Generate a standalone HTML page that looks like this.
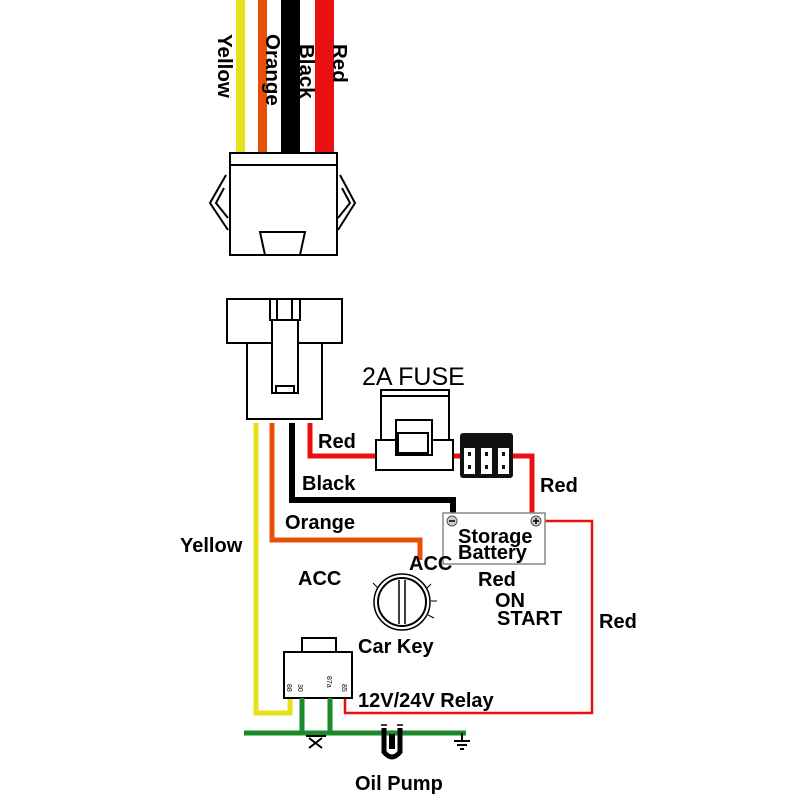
<!DOCTYPE html>
<html><head><meta charset="utf-8"><style>
html,body{margin:0;padding:0;background:#fff;}
svg text{font-family:"Liberation Sans",Arial,sans-serif;fill:#000;}
</style></head><body>
<svg width="800" height="800" viewBox="0 0 800 800" xmlns="http://www.w3.org/2000/svg">
<rect x="236" y="0" width="9" height="155" fill="#e6e21a"/>
<rect x="258" y="0" width="9" height="155" fill="#e8500a"/>
<rect x="281" y="0" width="19" height="155" fill="#000"/>
<rect x="315" y="0" width="19" height="155" fill="#e81010"/>
<g font-weight="bold" font-size="20.5">
<text transform="translate(218,34) rotate(90)">Yellow</text>
<text transform="translate(266,34) rotate(90)">Orange</text>
<text transform="translate(300,44) rotate(90)">Black</text>
<text transform="translate(333,44) rotate(90)">Red</text>
</g>
<g fill="#fff" stroke="#000" stroke-width="2">
<rect x="230" y="153" width="107" height="102"/>
<line x1="230" y1="165" x2="337" y2="165"/>
<polyline points="226,175 210,203 228,230" fill="none"/>
<polyline points="224,188 216,203 228,218" fill="none"/>
<polyline points="340,175 355,203 338,230" fill="none"/>
<polyline points="342,188 350,203 338,218" fill="none"/>
<polygon points="260,232 305,232 300,255 265,255"/>
</g>
<g fill="#fff" stroke="#000" stroke-width="2">
<rect x="227" y="299" width="115" height="44"/>
<rect x="247" y="343" width="75" height="76"/>
<rect x="272" y="299" width="26" height="94"/>
<rect x="270" y="299" width="30" height="21"/>
<line x1="277" y1="299" x2="277" y2="320"/>
<line x1="292" y1="299" x2="292" y2="320"/>
<rect x="276" y="386" width="18" height="7"/>
</g>
<polyline points="256,423 256,713 290,713 290,697" fill="none" stroke="#e6e21a" stroke-width="5"/>
<polyline points="272,423 272,540 420,540 420,560" fill="none" stroke="#e8500a" stroke-width="5"/>
<polyline points="292,423 292,500 453,500 453,515" fill="none" stroke="#000" stroke-width="6"/>
<polyline points="310,423 310,456 377,456" fill="none" stroke="#e81010" stroke-width="5"/>
<line x1="453" y1="456" x2="462" y2="456" stroke="#e81010" stroke-width="5"/>
<polyline points="513,456 532,456 532,515" fill="none" stroke="#e81010" stroke-width="5"/>
<polyline points="545,521 592,521 592,713 345,713 345,697" fill="none" stroke="#e81010" stroke-width="2.5"/>
<g fill="#fff" stroke="#000" stroke-width="2">
<rect x="381" y="390" width="68" height="50"/>
<line x1="381" y1="396" x2="449" y2="396"/>
<rect x="376" y="440" width="77" height="30"/>
<rect x="396" y="420" width="36" height="35"/>
<rect x="398" y="433" width="30" height="20"/>
</g>
<rect x="460" y="433" width="53" height="45" rx="3" fill="#111"/>
<g fill="#fff">
<rect x="464" y="448" width="11" height="26"/><rect x="481" y="448" width="11" height="26"/><rect x="498" y="448" width="11" height="26"/>
</g>
<g fill="#111">
<rect x="468" y="452" width="3" height="4"/><rect x="468" y="465" width="3" height="4"/>
<rect x="485" y="452" width="3" height="4"/><rect x="485" y="465" width="3" height="4"/>
<rect x="502" y="452" width="3" height="4"/><rect x="502" y="465" width="3" height="4"/>
</g>
<rect x="443" y="513" width="102" height="51" fill="#fff" stroke="#888" stroke-width="1.5"/>
<circle cx="452" cy="521" r="5" fill="#ccc" stroke="#555"/><line x1="449" y1="521" x2="455" y2="521" stroke="#000" stroke-width="1.5"/>
<circle cx="536" cy="521" r="5" fill="#ccc" stroke="#555"/><line x1="533" y1="521" x2="539" y2="521" stroke="#000" stroke-width="1.5"/><line x1="536" y1="518" x2="536" y2="524" stroke="#000" stroke-width="1.5"/>
<circle cx="402" cy="602" r="28" fill="none" stroke="#000" stroke-width="1.5"/>
<circle cx="402" cy="602" r="24" fill="none" stroke="#000" stroke-width="2"/>
<line x1="399" y1="580" x2="399" y2="624" stroke="#000" stroke-width="1.5"/>
<line x1="405" y1="580" x2="405" y2="624" stroke="#000" stroke-width="1.5"/>
<g stroke="#000" stroke-width="1"><line x1="373" y1="583" x2="378" y2="588"/><line x1="426" y1="589" x2="431" y2="584"/><line x1="431" y1="601" x2="437" y2="601"/><line x1="428" y1="615" x2="434" y2="618"/></g>
<g fill="#fff" stroke="#000" stroke-width="2">
<rect x="302" y="638" width="34" height="14"/>
<rect x="284" y="652" width="68" height="46"/>
</g>
<g font-size="7" fill="#333"><text transform="translate(287,684) rotate(90)">88</text><text transform="translate(298,684) rotate(90)">30</text><text transform="translate(327,676) rotate(90)">87a</text><text transform="translate(342,684) rotate(90)">85</text></g>
<g stroke="#1a8a2a" stroke-width="5" fill="none">
<line x1="302" y1="698" x2="302" y2="733"/>
<line x1="330" y1="698" x2="330" y2="733"/>
<line x1="244" y1="733" x2="466" y2="733"/>
</g>
<g stroke="#000" stroke-width="2"><line x1="309" y1="738" x2="322" y2="748"/><line x1="322" y1="738" x2="309" y2="748"/><line x1="306" y1="736" x2="326" y2="736"/></g>
<g stroke="#000" stroke-width="2"><line x1="462" y1="733" x2="462" y2="740"/><line x1="454" y1="741" x2="470" y2="741"/><line x1="457" y1="745" x2="467" y2="745"/><line x1="460" y1="749" x2="464" y2="749"/></g>
<path d="M384 728 V752 Q392 762 400 752 V728" fill="none" stroke="#000" stroke-width="5"/>
<rect x="389" y="734" width="6" height="15" fill="#000"/>
<line x1="381" y1="725" x2="387" y2="725" stroke="#000" stroke-width="1.5"/><line x1="397" y1="725" x2="403" y2="725" stroke="#000" stroke-width="1.5"/>
<text x="362" y="385" font-size="25">2A FUSE</text>
<g font-weight="bold" font-size="20">
<text x="318" y="448">Red</text>
<text x="302" y="490">Black</text>
<text x="285" y="529">Orange</text>
<text x="180" y="552">Yellow</text>
<text x="540" y="492">Red</text>
<text x="458" y="543">Storage</text>
<text x="458" y="559">Battery</text>
<text x="409" y="570">ACC</text>
<text x="298" y="585">ACC</text>
<text x="478" y="586">Red</text>
<text x="495" y="607">ON</text>
<text x="497" y="625">START</text>
<text x="599" y="628">Red</text>
<text x="358" y="653">Car Key</text>
<text x="358" y="707">12V/24V Relay</text>
<text x="355" y="790">Oil Pump</text>
</g>
</svg>
</body></html>
